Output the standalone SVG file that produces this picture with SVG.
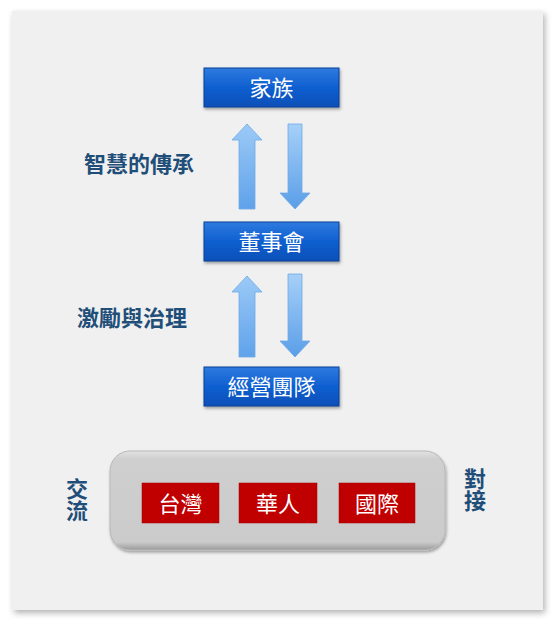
<svg xmlns="http://www.w3.org/2000/svg" width="556" height="626" viewBox="0 0 556 626">
<defs>
<linearGradient id="blue" x1="0" y1="0" x2="0" y2="1">
<stop offset="0" stop-color="#2f7ae0"/><stop offset="0.5" stop-color="#0f5fd0"/><stop offset="1" stop-color="#0a4fb8"/>
</linearGradient>
<linearGradient id="arrowUp" x1="0" y1="0" x2="0" y2="1">
<stop offset="0" stop-color="#9ccaf7"/><stop offset="1" stop-color="#5fa2ea"/>
</linearGradient>
<linearGradient id="arrowDown" x1="0" y1="0" x2="0" y2="1">
<stop offset="0" stop-color="#a6d0f8"/><stop offset="1" stop-color="#5a9ee8"/>
</linearGradient>
<linearGradient id="gray" x1="0" y1="0" x2="0" y2="1">
<stop offset="0" stop-color="#e2e2e2"/><stop offset="0.08" stop-color="#cfcfcf"/><stop offset="0.92" stop-color="#cbcbcb"/><stop offset="1" stop-color="#9a9a9a"/>
</linearGradient>
<filter id="sh" x="-10%" y="-10%" width="130%" height="140%">
<feDropShadow dx="1" dy="2" stdDeviation="1.5" flood-color="#000" flood-opacity="0.35"/>
</filter>
<filter id="psh" x="-5%" y="-5%" width="110%" height="110%">
<feDropShadow dx="2" dy="3" stdDeviation="3" flood-color="#000" flood-opacity="0.3"/>
</filter>
</defs>
<style>
.blue{fill:url(#blue);stroke:#0a3f94;stroke-width:1;filter:url(#sh)}
.red{fill:#c00000;stroke:#a00000;stroke-width:0.5}
.bt{font-family:"Noto Sans CJK TC","Noto Sans CJK SC",sans-serif;font-size:22px;fill:#ffffff;text-anchor:middle}
.lbl{font-family:"Noto Sans CJK TC","Noto Sans CJK SC",sans-serif;font-size:22px;font-weight:bold;fill:#1f4e79}
.vl{writing-mode:tb;text-anchor:start}
.up{fill:url(#arrowUp);stroke:#6fa8e6;stroke-width:0.8}
.dn{fill:url(#arrowDown);stroke:#6fa8e6;stroke-width:0.8}
</style>
<rect x="0" y="0" width="556" height="626" fill="#ffffff"/>
<rect x="12" y="11" width="531" height="599" fill="#f0f0f0" filter="url(#psh)"/>

<g id="connectors">
<path class="up" d="M239,209 L239,140 L232,140 L247,124 L262,140 L255,140 L255,209 Z"/>
<path class="dn" d="M288,124 L302,124 L302,193 L310,193 L295,209 L280,193 L288,193 Z"/>
<path class="up" d="M239,357 L239,292 L232,292 L247,276 L262,292 L255,292 L255,357 Z"/>
<path class="dn" d="M288,274 L302,274 L302,341 L310,341 L295,357 L280,341 L288,341 Z"/>
</g>

<g id="family"><rect class="blue" x="204" y="68" width="135" height="39"/><text class="bt" x="271.5" y="96">家族</text></g>
<g id="board"><rect class="blue" x="204" y="222" width="135" height="39"/><text class="bt" x="271.5" y="250">董事會</text></g>
<g id="mgmt"><rect class="blue" x="204" y="367" width="135" height="39"/><text class="bt" x="271.5" y="395">經營團隊</text></g>

<g id="label-wisdom"><text class="lbl" x="84" y="172">智慧的傳承</text></g>
<g id="label-incentive"><text class="lbl" x="77" y="326">激勵與治理</text></g>

<g id="platform">
<rect x="110" y="451" width="335" height="99" rx="20" fill="url(#gray)" stroke="#b8b8b8" stroke-width="1" filter="url(#sh)"/>
</g>
<g id="taiwan"><rect class="red" x="142" y="483" width="77" height="40"/><text class="bt" x="180.5" y="512">台灣</text></g>
<g id="chinese"><rect class="red" x="239" y="483" width="78" height="40"/><text class="bt" x="278" y="512">華人</text></g>
<g id="intl"><rect class="red" x="339" y="483" width="76" height="40"/><text class="bt" x="377" y="512">國際</text></g>

<g id="label-exchange"><text class="lbl vl" x="77" y="478">交流</text></g>
<g id="label-connect"><text class="lbl vl" x="475" y="468">對接</text></g>
</svg>
